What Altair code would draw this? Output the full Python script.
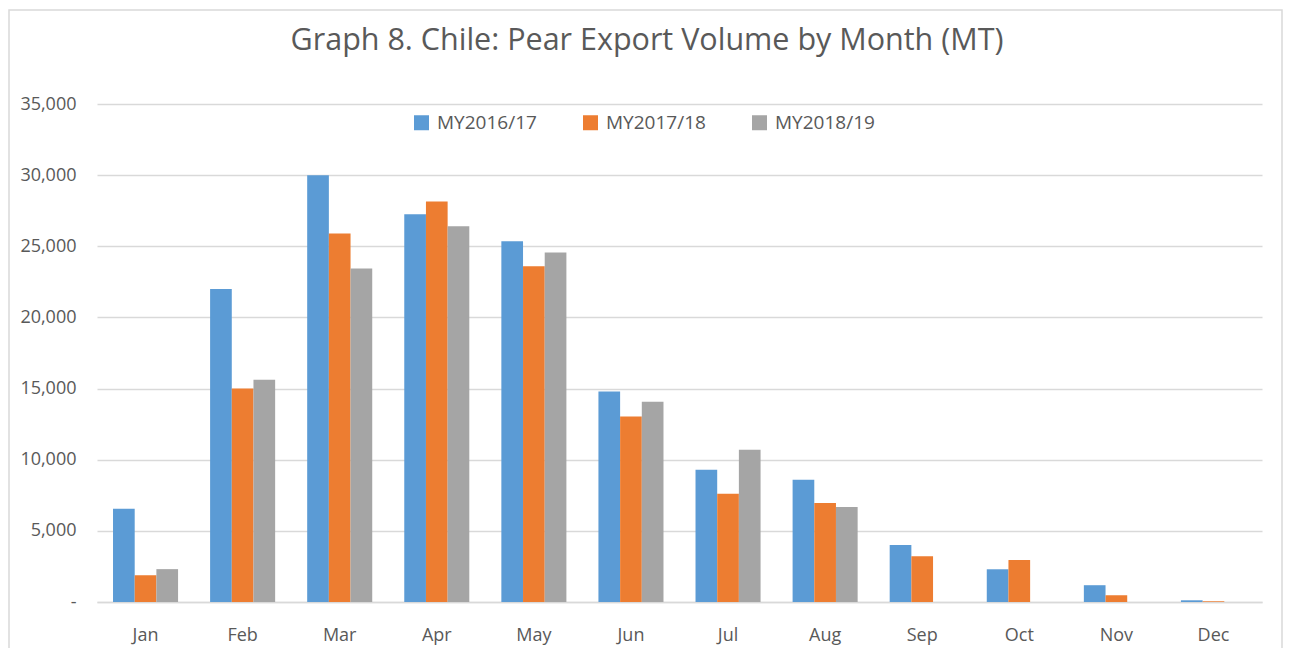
import altair as alt
import pandas as pd

months = ["Jan", "Feb", "Mar", "Apr", "May", "Jun", "Jul", "Aug", "Sep", "Oct", "Nov", "Dec"]
series_names = ["MY2016/17", "MY2017/18", "MY2018/19"]
my2016 = [6550, 22000, 30000, 27250, 25350, 14800, 9300, 8600, 4000, 2300, 1180, 120]
my2017 = [1880, 15000, 25900, 28150, 23600, 13030, 7600, 6950, 3220, 2950, 470, 50]
my2018 = [2310, 15620, 23430, 26400, 24570, 14070, 10700, 6670, None, None, None, None]
colors = ["#5B9BD5", "#ED7D31", "#A5A5A5"]
title_text = "Graph 8. Chile: Pear Export Volume by Month (MT)"

rows = []
for name, vals in zip(series_names, [my2016, my2017, my2018]):
    for m, v in zip(months, vals):
        if v is not None:
            rows.append({"Month": m, "Series": name, "Value": v})
df = pd.DataFrame(rows)

PW, PH = 1165, 498
TXT = "#595959"
FONT = "Open Sans"

bars = alt.Chart(df).mark_bar().encode(
    x=alt.X("Month:N", sort=months, title=None,
            scale=alt.Scale(paddingInner=0.33, paddingOuter=0.165),
            axis=alt.Axis(labelAngle=0, labelFontSize=18, labelColor=TXT, labelFont=FONT,
                          ticks=False, tickSize=0, labelPadding=24, domainColor="#d9d9d9",
                          domainWidth=1.5, grid=False)),
    xOffset=alt.XOffset("Series:N", sort=series_names),
    y=alt.Y("Value:Q", title=None,
            scale=alt.Scale(domain=[0, 35000], nice=False),
            axis=alt.Axis(values=[0, 5000, 10000, 15000, 20000, 25000, 30000, 35000],
                          labelExpr="datum.value == 0 ? '-' : format(datum.value, ',')",
                          labelFontSize=18, labelColor=TXT, labelFont=FONT,
                          ticks=False, tickSize=0, labelPadding=21, domain=False,
                          gridColor="#d9d9d9", gridWidth=1.3)),
    color=alt.Color("Series:N", sort=series_names,
                    scale=alt.Scale(domain=series_names, range=colors),
                    legend=alt.Legend(title=None, orient="none", direction="horizontal",
                                      legendX=315, legendY=9, symbolType="square",
                                      symbolSize=225, symbolStrokeWidth=0, symbolOpacity=1,
                                      labelFontSize=19, labelColor=TXT, labelFont=FONT,
                                      labelOffset=6, columnPadding=44, padding=0)),
)

border = alt.Chart(pd.DataFrame({"a": [1]})).mark_rect(
    fillOpacity=0, stroke="#d9d9d9", strokeWidth=1.5
).encode(x=alt.value(-88), x2=alt.value(1185), y=alt.value(-94), y2=alt.value(580))

title = alt.Chart(pd.DataFrame({"t": [title_text]})).mark_text(
    font=FONT, fontSize=30.5, color=TXT, align="center", baseline="alphabetic"
).encode(text="t:N", x=alt.value(550), y=alt.value(-54))

chart = alt.layer(border, bars, title).properties(
    width=PW, height=PH,
    autosize=alt.AutoSizeParams(type="none"),
    padding={"left": 89, "top": 96, "right": 21, "bottom": 46},
    background="white",
).configure_view(stroke="transparent")

chart.save("out.html", embed_options={"renderer": "svg", "actions": False})
